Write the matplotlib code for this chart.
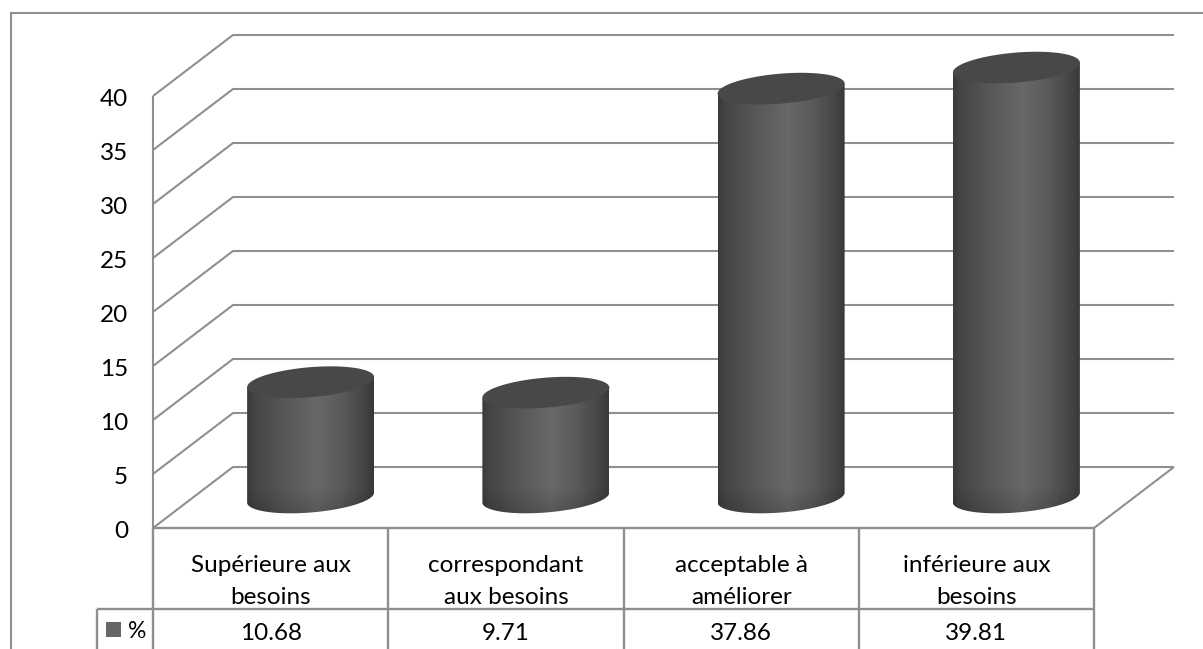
import numpy as np
import matplotlib
matplotlib.use("Agg")
import matplotlib.pyplot as plt
from matplotlib.colors import LinearSegmentedColormap
from matplotlib.patches import Polygon, Rectangle


categories = ["Supérieure aux\nbesoins", "correspondant\naux besoins",
              "acceptable à\naméliorer", "inférieure aux\nbesoins"]
values = [10.68, 9.71, 37.86, 39.81]
value_labels = ["10.68", "9.71", "37.86", "39.81"]
y_ticks = [0, 5, 10, 15, 20, 25, 30, 35, 40]
series_name = "%"

plt.rcParams["font.family"] = ["Lato", "DejaVu Sans"]

W, H = 1203, 649
LINE = "#8f8f8f"

fig = plt.figure(figsize=(W / 100, H / 100), dpi=100, facecolor="white")

# Axes sit on the front face of the 3D box: one x unit per category, y in percent
left, right, top, bottom = 153, 1094, 96, 528
ax = fig.add_axes([left / W, 1 - bottom / H, (right - left) / W, (bottom - top) / H])
ax.set_xlim(0, 4)
ax.set_ylim(0, 40)
ax.axis("off")

px_x = 4 / (right - left)
px_y = 40 / (bottom - top)
depth_x = 80 * px_x
depth_y = 61 * px_y


def below(y_pixel):
    # y position in percent units for a row of the table under the axis
    return -(y_pixel - bottom) * px_y


def line(xs, ys, lw=1.5, z=1):
    ax.plot(xs, ys, color=LINE, lw=lw, clip_on=False, zorder=z, solid_capstyle="butt")


# Walls and gridlines
for t in y_ticks:
    line([0, depth_x, 4 + depth_x], [t, t + depth_y, t + depth_y])
    ax.text(-25 * px_x, t - 3 * px_y, str(t), ha="right", va="center", fontsize=17.5, color="black")
line([0, 0], [0, 40])
line([4, 4 + depth_x], [0, depth_y])

# Cylinders
side_cmap = LinearSegmentedColormap.from_list(
    "side", [(0, "#3a3a3a"), (0.05, "#444444"), (0.3, "#585858"), (0.55, "#686868"),
             (0.75, "#5a5a5a"), (0.93, "#444444"), (1, "#383838")])
half_w = 63.5 * px_x
shear = 5 * px_y
minor = 15 * px_y
t = np.linspace(0, 2 * np.pi, 200)

for i, v in enumerate(values):
    cx = i + 0.5 + depth_x / 2
    y0 = depth_y / 2
    lower = np.linspace(np.pi, 2 * np.pi, 100)  # near side of the ellipse
    bx = cx + half_w * np.cos(lower)
    by = y0 + shear * np.cos(lower) + minor * np.sin(lower)
    body = np.column_stack([
        np.r_[bx, cx + half_w, cx - half_w],
        np.r_[by, y0 + v + shear, y0 + v - shear],
    ])

    # Horizontal shading, a little darker towards the foot of the cylinder
    img_lo = y0 - minor * 1.3
    img_hi = y0 + v + minor
    rows = int((img_hi - img_lo) / px_y)
    shade = side_cmap(np.linspace(0, 1, 256))[:, :3]
    fade = np.clip(np.arange(rows) / 30, 0, 1) * 0.18 + 0.82
    img = shade[None, :, :] * fade[:, None, None]

    im = ax.imshow(img, origin="lower", extent=[cx - half_w, cx + half_w, img_lo, img_hi],
                   aspect="auto", zorder=3)
    patch = Polygon(body, closed=True, transform=ax.transData, facecolor="none", edgecolor="none")
    ax.add_patch(patch)
    im.set_clip_path(patch)
    im.set_clip_box(fig.bbox)

    ex = cx + half_w * np.cos(t)
    ey = y0 + v + shear * np.cos(t) + minor * np.sin(t)
    ax.fill(ex, ey, color="#484848", zorder=4, clip_on=False, lw=0)

ax.set_xlim(0, 4)
ax.set_ylim(0, 40)

# Data table below the axis
table_bottom = below(H)
row_y = below(609)
line([0, 4], [0, 0], lw=1.7)
for i in range(5):
    line([i, i], [0, table_bottom], lw=1.7)
key_left = (97 - left) * px_x
line([key_left, 4], [row_y, row_y], lw=1.7)
line([key_left, key_left], [row_y, table_bottom], lw=1.7)

for i, (c, s) in enumerate(zip(categories, value_labels)):
    first, second = c.split("\n")
    ax.text(i + 0.5, below(565), first, ha="center", va="center", fontsize=17.5)
    ax.text(i + 0.5, below(597), second, ha="center", va="center", fontsize=17.5)
    ax.text(i + 0.5, below(634), s, ha="center", va="center", fontsize=17.5)

ax.add_patch(Rectangle(((106 - left) * px_x, below(637)), 15 * px_x, 15 * px_y,
                       facecolor="#666666", edgecolor="none", clip_on=False))
ax.text((128 - left) * px_x, below(632), series_name, ha="left", va="center", fontsize=16.5)

# Outer frame: open on the right and at the bottom
fig.add_artist(plt.Line2D([11 / W, 11 / W], [0, 1 - 13 / H], color=LINE, lw=1.5))
fig.add_artist(plt.Line2D([11 / W, 1], [1 - 13 / H, 1 - 13 / H], color=LINE, lw=1.5))

fig.savefig("out.png", dpi=100)
